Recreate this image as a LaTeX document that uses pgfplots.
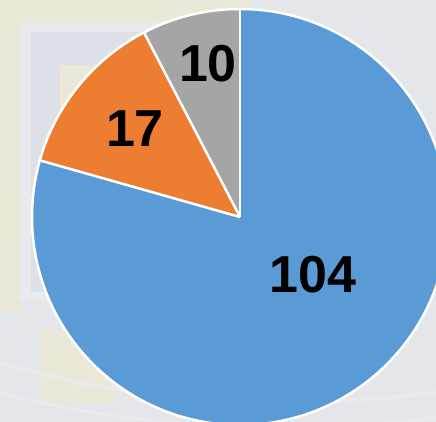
\documentclass[border=0pt]{standalone}
\usepackage{pgfplots}
\pgfplotsset{compat=1.18}
\usepackage{pgfplotstable}
\usepackage{fontspec}
\setmainfont{Liberation Sans}
\definecolor{pblue}{HTML}{5B9BD5}
\definecolor{porange}{HTML}{ED7D31}
\definecolor{pgrey}{HTML}{A5A5A5}
\definecolor{bgbase}{HTML}{E5E6EA}
\definecolor{bgyel}{HTML}{EAE9D9}
\definecolor{bgblue}{HTML}{DDE0E7}
\definecolor{bglight}{HTML}{EAEAEC}
\pgfplotstableread{
label value
A 104
B 17
C 10
}\piedata
\begin{document}
\begin{tikzpicture}
\useasboundingbox (0,0) rectangle (436bp,422bp);
\pgfplotstablegetelem{0}{value}\of\piedata \edef\va{\pgfplotsretval}
\pgfplotstablegetelem{1}{value}\of\piedata \edef\vb{\pgfplotsretval}
\pgfplotstablegetelem{2}{value}\of\piedata \edef\vc{\pgfplotsretval}
\pgfmathsetmacro\tot{\va+\vb+\vc}
\pgfmathsetmacro\aA{90-360*(\va/\tot)}
\pgfmathsetmacro\aB{\aA-360*(\vb/\tot)}
\pgfmathsetmacro\aC{\aB-360*(\vc/\tot)}
\begin{axis}[
  at={(0,0)}, anchor=south west,
  scale only axis, width=436bp, height=422bp,
  xmin=0, xmax=436, ymin=0, ymax=422,
  hide axis, clip=true,
]
% faded background
\fill[bgbase] (axis cs:0,0) rectangle (axis cs:436,422);
\fill[bgyel] (axis cs:0,422) rectangle (axis cs:250,398);
\fill[bgyel] (axis cs:0,398) rectangle (axis cs:20,110);
\fill[bglight, rounded corners=4bp] (axis cs:20,399) rectangle (axis cs:250,120);
\fill[bgblue] (axis cs:31,390) rectangle (axis cs:250,130);
\fill[bgyel] (axis cs:60,357) rectangle (axis cs:150,260);
\fill[bgyel] (axis cs:40,92) rectangle (axis cs:115,20);
\draw[bglight, line width=4bp] (axis cs:0,60) .. controls (axis cs:120,20) and (axis cs:300,10) .. (axis cs:436,30);
\draw[bglight, line width=3bp] (axis cs:0,30) .. controls (axis cs:120,-5) and (axis cs:300,-15) .. (axis cs:436,5);
% pie
\fill[pblue] (axis cs:240,205) -- ++(90:208bp) arc[start angle=90, end angle=\aA, radius=208bp] -- cycle;
\fill[porange] (axis cs:240,205) -- ++(\aA:208bp) arc[start angle=\aA, end angle=\aB, radius=208bp] -- cycle;
\fill[pgrey] (axis cs:240,205) -- ++(\aB:208bp) arc[start angle=\aB, end angle=\aC, radius=208bp] -- cycle;
\draw[white, line width=2.5bp] (axis cs:240,205) circle[radius=208bp];
\draw[white, line width=2.5bp] (axis cs:240,205) -- ++(90:208bp);
\draw[white, line width=2.5bp] (axis cs:240,205) -- ++(\aA:208bp);
\draw[white, line width=2.5bp] (axis cs:240,205) -- ++(\aB:208bp);
% labels
\node[font=\fontsize{52bp}{60bp}\selectfont\bfseries, inner sep=0pt] at (axis cs:313,147) {\va};
\node[font=\fontsize{52bp}{60bp}\selectfont\bfseries, inner sep=0pt] at (axis cs:135,293) {\vb};
\node[font=\fontsize{52bp}{60bp}\selectfont\bfseries, inner sep=0pt] at (axis cs:208,358) {\vc};
\end{axis}
\end{tikzpicture}
\end{document}
